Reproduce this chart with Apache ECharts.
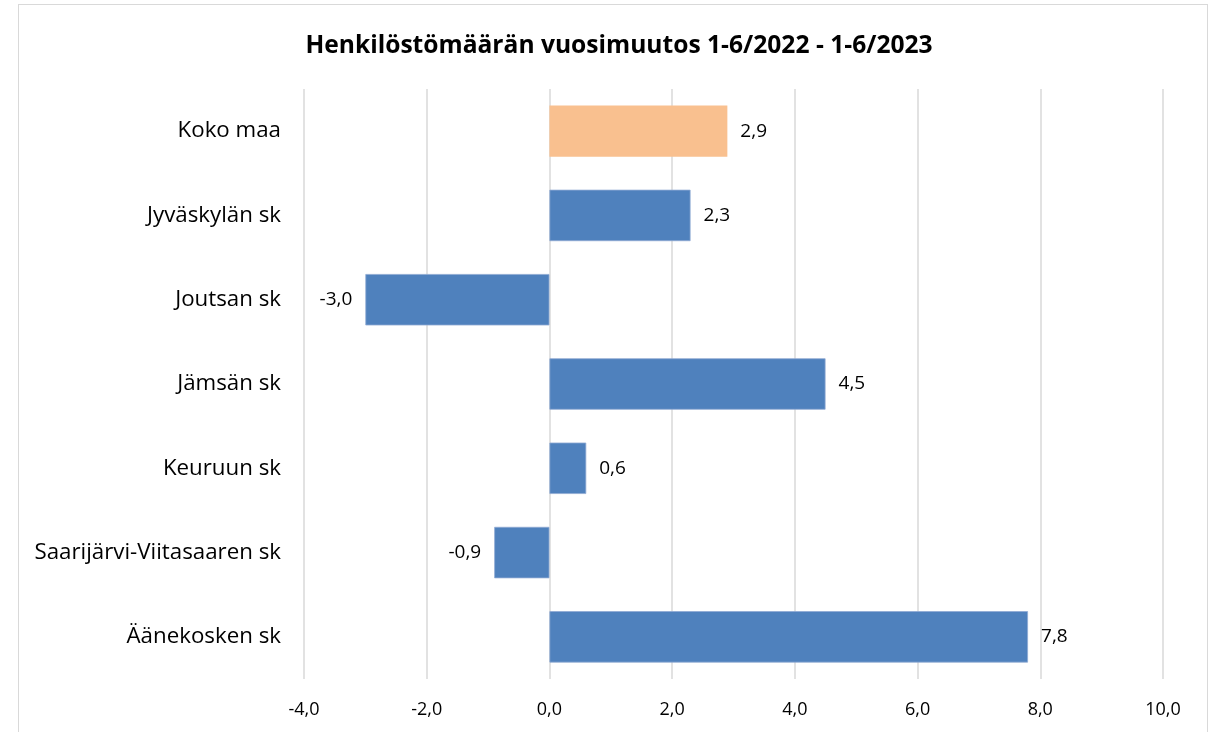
<!DOCTYPE html>
<html>
<head>
<meta charset="utf-8">
<script src="https://cdn.jsdelivr.net/npm/echarts@6/dist/echarts.min.js"></script>
<style>
  html, body { margin: 0; padding: 0; background: #fff; overflow: hidden; }
  #frame { position: absolute; left: 18px; top: 4px; width: 1190px; height: 760px; border: 1.5px solid #d9d9d9; box-sizing: border-box; }
  #chart { position: absolute; left: 0; top: 0; width: 1221px; height: 732px; }
</style>
</head>
<body>
<div id="frame"></div>
<div id="chart"></div>
<script>
const titleText = 'Henkilöstömäärän vuosimuutos 1-6/2022 - 1-6/2023'
const categories = [
  'Koko maa',
  'Jyväskylän sk',
  'Joutsan sk',
  'Jämsän sk',
  'Keuruun sk',
  'Saarijärvi-Viitasaaren sk',
  'Äänekosken sk',
]
const values = [2.9, 2.3, -3.0, 4.5, 0.6, -0.9, 7.8]
const highlight = 'Koko maa'

const fontFamily = '"Open Sans", sans-serif'
const fmt = (v) => v.toFixed(1).replace('.', ',')

const chart = echarts.init(document.getElementById('chart'))

chart.setOption({
  backgroundColor: 'transparent',
  animation: false,
  title: {
    text: titleText,
    left: 614,
    top: 28,
    textAlign: 'center',
    textStyle: { fontFamily, fontSize: 24.6, fontWeight: 'bold', color: '#000' },
  },
  grid: { left: 304, right: 58, top: 89, bottom: 53 },
  xAxis: {
    type: 'value',
    min: -4,
    max: 10,
    interval: 2,
    axisLine: { show: false },
    axisTick: { show: false },
    axisLabel: {
      formatter: fmt,
      color: '#000',
      fontFamily,
      fontSize: 18,
      margin: 22,
    },
    splitLine: { lineStyle: { color: '#d9d9d9', width: 1.5 } },
  },
  yAxis: {
    type: 'category',
    inverse: true,
    data: categories,
    axisLine: { show: false },
    axisTick: { show: false },
    axisLabel: { color: '#000', fontFamily, fontSize: 22.3, margin: 23 },
  },
  series: [
    {
      type: 'bar',
      barWidth: '61%',
      data: values.map((v, i) => ({
        value: v,
        itemStyle: categories[i] === highlight
          ? { color: '#f9c08f' }
          : { color: '#4f81bd', borderColor: '#8faad3', borderWidth: 0.8 },
        label: { position: v < 0 ? 'left' : 'right' },
      })),
      label: {
        show: true,
        distance: 13,
        formatter: (p) => fmt(p.value),
        color: '#000',
        fontFamily,
        fontSize: 19,
      },
    },
  ],
})
</script>
</body>
</html>
